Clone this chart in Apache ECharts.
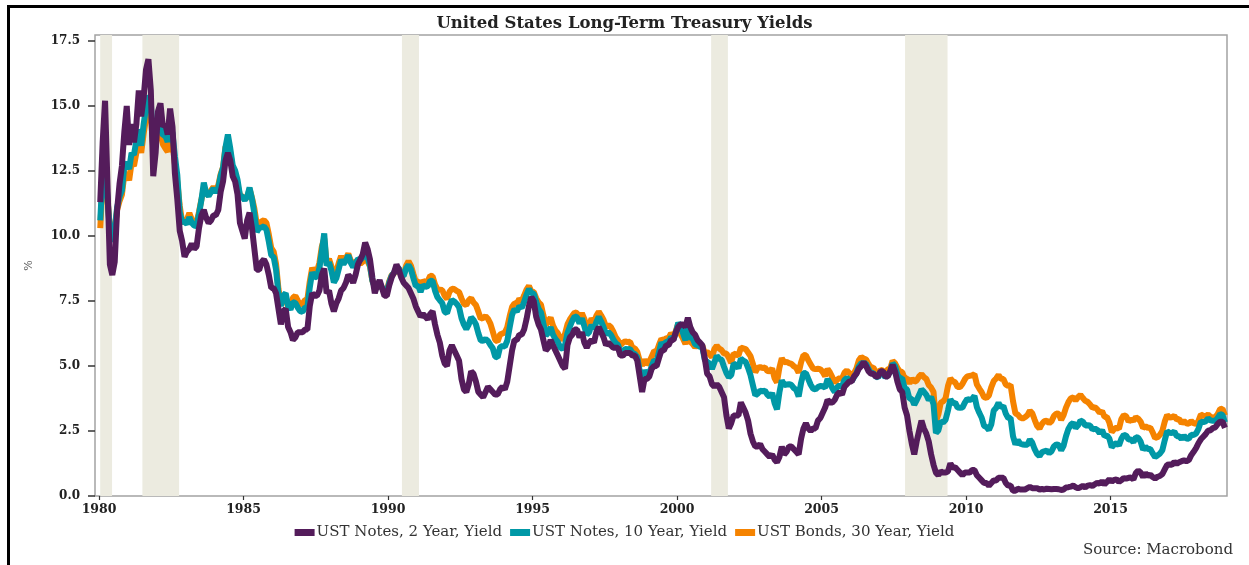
<!DOCTYPE html>
<html>
<head>
<meta charset="utf-8">
<script src="https://cdn.jsdelivr.net/npm/echarts@6/dist/echarts.min.js"></script>
<style>
  html, body { margin: 0; padding: 0; background: #fff; }
  #chart { width: 1249px; height: 565px; }
</style>
</head>
<body>
<div id="chart"></div>
<script>
// monthly yields, Jan 1980 .. Dec 2018 (12 values per row)
var startYear = 1980;

var twoYear = [
  11.3, 13.6, 15.2, 12.0, 8.9, 8.5, 9.0, 11.0, 12.0, 12.7, 14.0, 15.0,
  13.5, 14.3, 13.6, 14.3, 15.6, 14.6, 15.3, 16.4, 16.8, 15.6, 12.3, 13.2,
  14.8, 15.1, 14.2, 14.3, 13.9, 14.9, 14.2, 12.4, 11.4, 10.2, 9.8, 9.2,
  9.4, 9.5, 9.7, 9.5, 9.6, 10.3, 10.8, 11.0, 10.7, 10.5, 10.6, 10.8,
  10.8, 11.0, 11.7, 12.1, 12.9, 13.2, 12.9, 12.3, 12.1, 11.6, 10.5, 10.2,
  9.9, 10.6, 10.9, 10.3, 9.5, 8.7, 8.7, 9.0, 9.1, 8.9, 8.5, 8.0,
  8.0, 7.8, 7.2, 6.6, 7.1, 7.2, 6.5, 6.3, 6.0, 6.1, 6.3, 6.3,
  6.3, 6.4, 6.4, 7.3, 7.8, 7.7, 7.7, 7.9, 8.5, 8.75, 7.8, 7.9,
  7.4, 7.1, 7.4, 7.6, 7.9, 8.0, 8.2, 8.5, 8.4, 8.2, 8.5, 8.9,
  9.1, 9.3, 9.75, 9.5, 9.1, 8.4, 7.8, 8.1, 8.3, 8.0, 7.7, 7.7,
  8.1, 8.4, 8.6, 8.9, 8.7, 8.4, 8.2, 8.1, 8.0, 7.8, 7.6, 7.3,
  7.1, 6.9, 7.0, 6.9, 6.8, 7.0, 7.1, 6.6, 6.2, 5.9, 5.4, 5.1,
  5.0, 5.6, 5.8, 5.6, 5.4, 5.2, 4.5, 4.1, 4.0, 4.3, 4.8, 4.7,
  4.4, 4.0, 3.9, 3.8, 4.0, 4.2, 4.1, 4.0, 3.9, 3.9, 4.1, 4.2,
  4.1, 4.4, 5.0, 5.6, 6.0, 6.0, 6.2, 6.2, 6.4, 6.8, 7.3, 7.65,
  7.5, 6.9, 6.6, 6.4, 6.0, 5.6, 5.7, 6.0, 5.8, 5.6, 5.4, 5.2,
  5.0, 4.9, 5.8, 6.1, 6.2, 6.4, 6.4, 6.1, 6.3, 5.9, 5.7, 5.9,
  6.0, 5.9, 6.3, 6.5, 6.3, 6.1, 5.8, 5.9, 5.8, 5.7, 5.7, 5.7,
  5.4, 5.4, 5.5, 5.5, 5.5, 5.4, 5.4, 5.2, 4.6, 4.0, 4.5, 4.5,
  4.6, 4.9, 5.0, 5.0, 5.3, 5.6, 5.6, 5.8, 5.8, 6.0, 6.0, 6.3,
  6.5, 6.6, 6.6, 6.5, 6.85, 6.5, 6.3, 6.2, 6.0, 5.9, 5.8, 5.3,
  4.7, 4.6, 4.3, 4.2, 4.3, 4.2, 4.0, 3.8, 3.1, 2.6, 2.8, 3.1,
  3.1, 3.1, 3.6, 3.4, 3.2, 2.9, 2.4, 2.1, 1.9, 1.9, 2.0, 1.8,
  1.7, 1.6, 1.5, 1.6, 1.4, 1.3, 1.5, 1.9, 1.6, 1.7, 1.9, 1.9,
  1.8, 1.7, 1.6, 2.2, 2.6, 2.8, 2.6, 2.5, 2.6, 2.6, 2.9, 3.0,
  3.2, 3.4, 3.7, 3.6, 3.6, 3.7, 3.9, 4.0, 3.9, 4.2, 4.3, 4.4,
  4.4, 4.6, 4.7, 4.9, 5.0, 5.15, 5.0, 4.8, 4.7, 4.7, 4.6, 4.6,
  4.8, 4.8, 4.6, 4.6, 4.8, 5.05, 4.8, 4.4, 4.1, 4.0, 3.4, 3.1,
  2.5, 2.0, 1.6, 2.1, 2.5, 2.9, 2.6, 2.4, 2.1, 1.6, 1.2, 0.9,
  0.8, 0.95, 0.9, 0.9, 0.95, 1.25, 1.1, 1.1, 1.0, 0.9, 0.8, 0.9,
  0.9, 0.9, 1.0, 1.0, 0.8, 0.7, 0.6, 0.5, 0.5, 0.4, 0.5, 0.6,
  0.6, 0.7, 0.7, 0.7, 0.5, 0.4, 0.4, 0.2, 0.2, 0.28, 0.25, 0.25,
  0.25, 0.3, 0.35, 0.3, 0.3, 0.3, 0.25, 0.27, 0.25, 0.28, 0.27, 0.26,
  0.27, 0.27, 0.26, 0.23, 0.25, 0.33, 0.34, 0.36, 0.4, 0.34, 0.3, 0.34,
  0.39, 0.33, 0.4, 0.42, 0.39, 0.45, 0.51, 0.47, 0.57, 0.45, 0.54, 0.64,
  0.55, 0.62, 0.64, 0.54, 0.61, 0.69, 0.67, 0.70, 0.71, 0.64, 0.88, 0.98,
  0.90, 0.73, 0.88, 0.77, 0.82, 0.73, 0.67, 0.74, 0.77, 0.84, 1.02, 1.20,
  1.21, 1.20, 1.31, 1.24, 1.30, 1.34, 1.37, 1.34, 1.38, 1.57, 1.70, 1.84,
  2.03, 2.18, 2.28, 2.38, 2.51, 2.53, 2.61, 2.64, 2.77, 2.86, 2.86, 2.62
];

var tenYear = [
  10.6, 12.41, 12.75, 11.47, 10.18, 9.78, 10.25, 11.10, 11.51, 11.75, 12.68, 12.84,
  12.57, 13.19, 13.12, 13.68, 14.10, 13.47, 14.28, 14.94, 15.40, 15.15, 13.39, 13.72,
  14.59, 14.43, 13.86, 13.87, 13.62, 14.30, 13.95, 13.06, 12.34, 10.91, 10.55, 10.54,
  10.46, 10.72, 10.51, 10.40, 10.38, 10.85, 11.38, 12.05, 11.65, 11.54, 11.69, 11.83,
  11.67, 11.84, 12.32, 12.63, 13.41, 13.90, 13.36, 12.72, 12.52, 12.16, 11.57, 11.50,
  11.38, 11.51, 11.86, 11.43, 10.85, 10.16, 10.31, 10.33, 10.37, 10.24, 9.78, 9.26,
  9.19, 8.70, 7.78, 7.30, 7.71, 7.80, 7.30, 7.17, 7.45, 7.43, 7.25, 7.11,
  7.08, 7.25, 7.25, 8.02, 8.61, 8.40, 8.45, 8.76, 9.42, 10.10, 8.86, 8.99,
  8.67, 8.21, 8.37, 8.72, 9.09, 8.92, 9.06, 9.26, 8.98, 8.80, 8.96, 9.11,
  9.09, 9.17, 9.36, 9.18, 8.86, 8.28, 8.02, 8.11, 8.19, 8.01, 7.87, 7.84,
  8.21, 8.47, 8.59, 8.79, 8.76, 8.48, 8.47, 8.75, 8.89, 8.72, 8.39, 8.08,
  8.09, 7.85, 8.11, 8.04, 8.07, 8.28, 8.27, 7.90, 7.65, 7.53, 7.42, 7.09,
  7.03, 7.34, 7.54, 7.48, 7.39, 7.26, 6.84, 6.59, 6.42, 6.59, 6.87, 6.77,
  6.60, 6.26, 5.98, 5.97, 6.04, 5.96, 5.81, 5.68, 5.36, 5.33, 5.72, 5.77,
  5.75, 5.97, 6.48, 6.97, 7.18, 7.10, 7.30, 7.24, 7.46, 7.74, 7.96, 7.81,
  7.78, 7.47, 7.20, 7.06, 6.63, 6.17, 6.28, 6.49, 6.20, 6.04, 5.93, 5.71,
  5.65, 5.81, 6.27, 6.51, 6.74, 6.91, 6.87, 6.64, 6.83, 6.53, 6.20, 6.30,
  6.58, 6.42, 6.69, 6.89, 6.71, 6.49, 6.22, 6.30, 6.21, 6.03, 5.88, 5.81,
  5.54, 5.57, 5.65, 5.64, 5.65, 5.50, 5.46, 5.34, 4.81, 4.53, 4.83, 4.65,
  4.72, 5.00, 5.23, 5.18, 5.54, 5.90, 5.79, 5.94, 5.92, 6.11, 6.03, 6.28,
  6.66, 6.52, 6.26, 5.99, 6.44, 6.10, 6.05, 5.83, 5.80, 5.74, 5.72, 5.24,
  5.16, 5.10, 4.89, 5.14, 5.39, 5.28, 5.24, 4.97, 4.73, 4.57, 4.65, 5.09,
  5.04, 4.91, 5.28, 5.21, 5.16, 4.93, 4.65, 4.26, 3.87, 3.94, 4.05, 4.03,
  4.05, 3.90, 3.81, 3.96, 3.57, 3.33, 3.98, 4.45, 4.27, 4.29, 4.30, 4.27,
  4.15, 4.08, 3.83, 4.35, 4.72, 4.73, 4.50, 4.28, 4.13, 4.10, 4.19, 4.23,
  4.22, 4.17, 4.50, 4.34, 4.14, 4.00, 4.18, 4.26, 4.20, 4.46, 4.54, 4.47,
  4.42, 4.57, 4.72, 4.99, 5.11, 5.11, 5.09, 4.88, 4.72, 4.73, 4.60, 4.56,
  4.76, 4.72, 4.56, 4.69, 4.75, 5.10, 5.00, 4.67, 4.52, 4.53, 4.15, 4.10,
  3.74, 3.74, 3.51, 3.68, 3.88, 4.10, 4.01, 3.89, 3.69, 3.81, 3.53, 2.42,
  2.52, 2.87, 2.82, 2.93, 3.29, 3.72, 3.56, 3.59, 3.40, 3.39, 3.40, 3.59,
  3.73, 3.69, 3.73, 3.85, 3.42, 3.20, 3.01, 2.70, 2.65, 2.54, 2.76, 3.29,
  3.39, 3.58, 3.41, 3.46, 3.17, 3.00, 3.00, 2.30, 1.98, 2.15, 2.01, 1.98,
  1.97, 1.97, 2.17, 2.05, 1.80, 1.62, 1.53, 1.68, 1.72, 1.75, 1.65, 1.72,
  1.91, 1.98, 1.96, 1.76, 1.93, 2.30, 2.58, 2.74, 2.81, 2.62, 2.72, 2.90,
  2.86, 2.71, 2.72, 2.71, 2.56, 2.60, 2.54, 2.42, 2.53, 2.30, 2.33, 2.21,
  1.88, 1.98, 2.04, 1.94, 2.20, 2.36, 2.32, 2.17, 2.17, 2.07, 2.26, 2.24,
  2.09, 1.78, 1.89, 1.81, 1.81, 1.64, 1.50, 1.56, 1.63, 1.76, 2.14, 2.49,
  2.43, 2.42, 2.48, 2.30, 2.30, 2.19, 2.32, 2.21, 2.20, 2.36, 2.35, 2.40,
  2.58, 2.86, 2.84, 2.87, 2.98, 2.91, 2.89, 2.89, 3.00, 3.15, 3.12, 2.83
];

var thirtyYear = [
  10.30, 12.13, 12.34, 11.40, 10.36, 9.81, 10.24, 11.00, 11.34, 11.59, 12.37, 12.40,
  12.14, 12.80, 12.69, 13.20, 13.60, 13.20, 13.92, 14.52, 15.07, 14.68, 13.35, 13.45,
  14.22, 14.22, 13.53, 13.37, 13.24, 13.92, 13.55, 12.77, 12.07, 11.17, 10.54, 10.54,
  10.63, 10.88, 10.63, 10.48, 10.53, 10.93, 11.40, 11.82, 11.63, 11.58, 11.75, 11.88,
  11.75, 11.95, 12.38, 12.65, 13.43, 13.44, 13.21, 12.54, 12.29, 11.98, 11.56, 11.52,
  11.45, 11.47, 11.81, 11.47, 11.05, 10.45, 10.50, 10.56, 10.61, 10.50, 10.06, 9.54,
  9.40, 8.93, 7.96, 7.39, 7.52, 7.57, 7.27, 7.33, 7.62, 7.70, 7.52, 7.37,
  7.39, 7.54, 7.55, 8.25, 8.78, 8.57, 8.64, 8.97, 9.59, 9.90, 8.95, 9.12,
  8.83, 8.43, 8.63, 8.95, 9.23, 9.00, 9.14, 9.32, 9.06, 8.89, 9.02, 9.01,
  8.93, 9.01, 9.17, 9.03, 8.83, 8.27, 8.08, 8.12, 8.15, 8.00, 7.90, 7.90,
  8.26, 8.50, 8.56, 8.76, 8.73, 8.46, 8.50, 8.86, 9.03, 8.86, 8.54, 8.24,
  8.27, 8.03, 8.29, 8.21, 8.27, 8.47, 8.45, 8.14, 7.95, 7.93, 7.92, 7.70,
  7.58, 7.85, 7.97, 7.96, 7.89, 7.84, 7.60, 7.39, 7.34, 7.53, 7.61, 7.44,
  7.34, 7.09, 6.82, 6.85, 6.92, 6.81, 6.63, 6.32, 6.00, 5.94, 6.21, 6.25,
  6.29, 6.49, 6.91, 7.27, 7.41, 7.40, 7.58, 7.49, 7.71, 7.94, 8.08, 7.87,
  7.85, 7.61, 7.45, 7.36, 6.95, 6.57, 6.72, 6.86, 6.55, 6.37, 6.26, 6.06,
  6.05, 6.24, 6.60, 6.79, 6.93, 7.06, 7.03, 6.84, 7.03, 6.81, 6.48, 6.55,
  6.83, 6.69, 6.93, 7.09, 6.94, 6.77, 6.51, 6.58, 6.50, 6.33, 6.11, 5.99,
  5.81, 5.89, 5.95, 5.92, 5.93, 5.70, 5.68, 5.54, 5.20, 5.01, 5.25, 5.06,
  5.16, 5.37, 5.58, 5.55, 5.81, 6.04, 5.98, 6.07, 6.07, 6.26, 6.15, 6.35,
  6.63, 6.23, 6.05, 5.85, 6.15, 5.93, 5.85, 5.72, 5.83, 5.80, 5.78, 5.49,
  5.54, 5.45, 5.34, 5.65, 5.78, 5.67, 5.61, 5.48, 5.48, 5.32, 5.12, 5.48,
  5.45, 5.40, 5.71, 5.68, 5.65, 5.52, 5.38, 5.08, 4.76, 4.93, 4.96, 4.92,
  4.94, 4.81, 4.80, 4.90, 4.53, 4.37, 4.93, 5.30, 5.14, 5.16, 5.11, 5.08,
  4.99, 4.93, 4.74, 5.14, 5.42, 5.41, 5.22, 5.06, 4.90, 4.88, 4.89, 4.88,
  4.77, 4.61, 4.89, 4.75, 4.56, 4.35, 4.48, 4.53, 4.51, 4.74, 4.83, 4.73,
  4.65, 4.73, 4.91, 5.22, 5.35, 5.29, 5.25, 5.08, 4.93, 4.94, 4.78, 4.70,
  4.85, 4.82, 4.72, 4.87, 4.90, 5.20, 5.11, 4.93, 4.79, 4.77, 4.52, 4.53,
  4.33, 4.52, 4.39, 4.44, 4.60, 4.69, 4.57, 4.50, 4.27, 4.17, 4.00, 2.87,
  3.13, 3.59, 3.64, 3.76, 4.23, 4.52, 4.41, 4.37, 4.19, 4.19, 4.31, 4.49,
  4.60, 4.62, 4.64, 4.69, 4.29, 4.13, 3.99, 3.80, 3.77, 3.87, 4.19, 4.42,
  4.52, 4.65, 4.51, 4.50, 4.29, 4.23, 4.27, 3.65, 3.18, 3.13, 3.02, 2.98,
  3.03, 3.11, 3.28, 3.18, 2.93, 2.70, 2.59, 2.77, 2.88, 2.90, 2.80, 2.88,
  3.08, 3.17, 3.16, 2.93, 3.11, 3.40, 3.61, 3.76, 3.79, 3.68, 3.80, 3.89,
  3.77, 3.66, 3.62, 3.52, 3.39, 3.42, 3.33, 3.20, 3.26, 3.04, 3.04, 2.83,
  2.46, 2.57, 2.63, 2.59, 2.96, 3.11, 3.07, 2.86, 2.95, 2.89, 3.03, 2.97,
  2.86, 2.62, 2.68, 2.62, 2.63, 2.45, 2.23, 2.26, 2.35, 2.50, 2.86, 3.11,
  3.02, 3.03, 3.08, 2.94, 2.96, 2.80, 2.88, 2.80, 2.78, 2.88, 2.80, 2.77,
  2.88, 3.13, 3.09, 3.07, 3.13, 3.05, 3.01, 3.04, 3.15, 3.34, 3.36, 3.10
];

// recession periods (decimal years)
var recessions = [
  [1980.04, 1980.45],
  [1981.50, 1982.77],
  [1990.48, 1991.07],
  [2001.18, 2001.76],
  [2007.89, 2009.36]
];

var yearTicks = [1980, 1985, 1990, 1995, 2000, 2005, 2010, 2015];
var yTicks = [0, 2.5, 5, 7.5, 10, 12.5, 15, 17.5];

var names = ['UST Notes, 2 Year, Yield', 'UST Notes, 10 Year, Yield', 'UST Bonds, 30 Year, Yield'];
var colors = ['#541c5b', '#0098a6', '#f58300'];

function toPairs(arr) {
    return arr.map(function (v, i) { return [startYear + (i + 0.5) / 12, v]; });
}

var serif = 'DejaVu Serif';

var myChart = echarts.init(document.getElementById('chart'));
var option = {
    animation: false,
    backgroundColor: '#fff',
    title: {
        text: 'United States Long-Term Treasury Yields',
        left: 'center',
        top: 10,
        textStyle: { fontFamily: serif, fontSize: 16.5, fontWeight: 'bold', color: '#222' }
    },
    legend: {
        data: names,
        left: 'center',
        top: 520,
        icon: 'rect',
        itemWidth: 20,
        itemHeight: 7,
        itemGap: 8,
        textStyle: { fontFamily: serif, fontSize: 15, color: '#333', padding: [0, 0, 0, -3] }
    },
    graphic: [
        { type: 'rect', shape: { x: 7, y: 5, width: 3, height: 565 }, style: { fill: '#000' } },
        { type: 'rect', shape: { x: 7, y: 5, width: 1250, height: 3 }, style: { fill: '#000' } },
        {
            type: 'text', right: 16, top: 543,
            style: { text: 'Source: Macrobond', font: '15px "DejaVu Serif"', fill: '#333' }
        }
    ],
    grid: {
        left: 95, right: 22, top: 35, bottom: 69,
        show: true,
        borderColor: '#a3a3a3',
        borderWidth: 1.5
    },
    xAxis: {
        type: 'value',
        min: 1979.86,
        max: 2019.03,
        splitLine: { show: false },
        axisLine: { show: false },
        axisTick: { show: true, customValues: yearTicks, length: 4, lineStyle: { color: '#333', width: 1.2 } },
        axisLabel: {
            customValues: yearTicks,
            margin: 7,
            fontFamily: serif, fontSize: 12.5, fontWeight: 'bold', color: '#222',
            formatter: function (v) { return String(v); }
        }
    },
    yAxis: {
        type: 'value',
        min: 0,
        max: 17.73,
        name: '%',
        nameLocation: 'middle',
        nameRotate: 90,
        nameGap: 60,
        nameTextStyle: { fontFamily: serif, fontSize: 11, color: '#555' },
        splitLine: { show: false },
        axisLine: { show: false },
        axisTick: { show: true, inside: false, customValues: yTicks, length: 7, lineStyle: { color: '#333', width: 1.5 } },
        axisLabel: {
            customValues: yTicks,
            margin: 15,
            fontFamily: serif, fontSize: 12, fontWeight: 'bold', color: '#222',
            formatter: function (v) { return v.toFixed(1); }
        }
    },
    series: [
        {
            name: names[0], type: 'line', z: 5, showSymbol: false,
            lineStyle: { color: colors[0], width: 6 }, itemStyle: { color: colors[0] },
            data: toPairs(twoYear)
        },
        {
            name: names[1], type: 'line', z: 4, showSymbol: false,
            lineStyle: { color: colors[1], width: 6 }, itemStyle: { color: colors[1] },
            data: toPairs(tenYear)
        },
        {
            name: names[2], type: 'line', z: 3, showSymbol: false,
            lineStyle: { color: colors[2], width: 6 }, itemStyle: { color: colors[2] },
            data: toPairs(thirtyYear),
            markArea: {
                silent: true,
                itemStyle: { color: '#ecebe0' },
                data: recessions.map(function (r) { return [{ xAxis: r[0] }, { xAxis: r[1] }]; })
            }
        }
    ]
};
myChart.setOption(option);
</script>
</body>
</html>
